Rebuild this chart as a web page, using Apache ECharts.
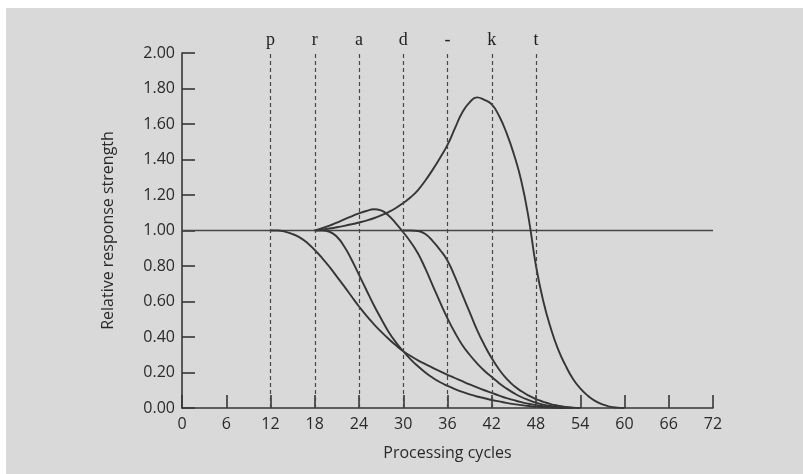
<!DOCTYPE html>
<html>
<head>
<meta charset="utf-8">
<script src="https://cdn.jsdelivr.net/npm/echarts@6/dist/echarts.min.js"></script>
<style>html,body{margin:0;padding:0;background:#fff}#c{width:803px;height:474px}</style>
</head>
<body>
<div id="c"></div>
<script>
// Phoneme markers (dashed lines) and their labels
const phonemeX = [12, 18, 24, 30, 36, 42, 48];
const phonemeLabels = ['p', 'r', 'a', 'd', '-', 'k', 't'];

// Baseline at relative strength 1.0
const baseline = [[0, 1], [72, 1]];

// Curves: [processing cycle, relative response strength]
const curve1 = [[12, 1], [13, 1], [14, 0.993], [15, 0.98], [16, 0.96], [17, 0.93], [18, 0.89], [19, 0.845], [20, 0.795], [21, 0.74], [22, 0.685], [23, 0.628], [24, 0.572], [25, 0.52], [26, 0.473], [27, 0.43], [28, 0.39], [29, 0.353], [30, 0.32], [31, 0.293], [32, 0.268], [33, 0.247], [34, 0.226], [35, 0.206], [36, 0.187], [37, 0.169], [38, 0.151], [39, 0.133], [40, 0.116], [41, 0.1], [42, 0.085], [43, 0.07], [44, 0.056], [45, 0.044], [46, 0.033], [47, 0.024], [48, 0.016], [49, 0.01], [50, 0.006], [51, 0.003], [52, 0.001], [53, 0]];
const curve2 = [[18, 1], [19, 1], [20, 0.993], [21, 0.965], [22, 0.91], [23, 0.835], [24, 0.75], [25, 0.665], [26, 0.58], [27, 0.503], [28, 0.43], [29, 0.37], [30, 0.32], [31, 0.274], [32, 0.235], [33, 0.2], [34, 0.17], [35, 0.145], [36, 0.125], [37, 0.107], [38, 0.091], [39, 0.077], [40, 0.065], [41, 0.055], [42, 0.045], [43, 0.037], [44, 0.029], [45, 0.022], [46, 0.016], [47, 0.011], [48, 0.007], [49, 0.004], [50, 0.002], [51, 0.001], [52, 0]];
const curve3 = [[18, 1], [19, 1.013], [20, 1.028], [21, 1.045], [22, 1.062], [23, 1.08], [24, 1.096], [25, 1.11], [26, 1.12], [27, 1.113], [28, 1.085], [29, 1.04], [30, 0.99], [31, 0.935], [32, 0.87], [33, 0.785], [34, 0.69], [35, 0.595], [36, 0.505], [37, 0.425], [38, 0.355], [39, 0.3], [40, 0.252], [41, 0.21], [42, 0.175], [43, 0.14], [44, 0.11], [45, 0.084], [46, 0.062], [47, 0.045], [48, 0.03], [49, 0.019], [50, 0.011], [51, 0.005], [52, 0]];
const curve4 = [[18, 1], [19, 1.005], [20, 1.011], [21, 1.018], [22, 1.026], [23, 1.035], [24, 1.045], [25, 1.056], [26, 1.069], [27, 1.085], [28, 1.104], [29, 1.127], [30, 1.155], [31, 1.187], [32, 1.228], [33, 1.282], [34, 1.343], [35, 1.41], [36, 1.482], [37, 1.575], [38, 1.665], [39, 1.722], [40, 1.75], [41, 1.736], [42, 1.71], [43, 1.645], [44, 1.55], [45, 1.43], [46, 1.28], [47, 1.07], [48, 0.8], [49, 0.6], [50, 0.45], [51, 0.33], [52, 0.24], [53, 0.165], [54, 0.11], [55, 0.07], [56, 0.04], [57, 0.02], [58, 0.008], [59, 0.002], [60, 0]];
const curve5 = [[30, 1], [31, 1], [32, 0.997], [33, 0.98], [34, 0.94], [35, 0.89], [36, 0.83], [37, 0.74], [38, 0.64], [39, 0.54], [40, 0.44], [41, 0.355], [42, 0.28], [43, 0.217], [44, 0.165], [45, 0.125], [46, 0.095], [47, 0.07], [48, 0.05], [49, 0.035], [50, 0.022], [51, 0.013], [52, 0.006], [53, 0.002], [54, 0]];

const lineColor = '#363636';
const textColor = '#2a2a2a';
const font = '"Open Sans", "Noto Sans", sans-serif';

function curveSeries(data) {
  return {
    type: 'line', data: data, smooth: 0.5,
    showSymbol: false, silent: true,
    lineStyle: { color: lineColor, width: 1.9 }, z: 3
  };
}

const chart = echarts.init(document.getElementById('c'), null, { renderer: 'canvas' });
chart.setOption({
  backgroundColor: '#ffffff',
  animation: false,
  graphic: [{
    type: 'rect', z: -100, silent: true,
    shape: { x: 6, y: 8, width: 803, height: 474 },
    style: { fill: '#d9d9d9' }
  }],
  grid: { left: 182, right: 90, top: 53, bottom: 66 },
  xAxis: {
    type: 'value', min: 0, max: 72, interval: 6,
    name: 'Processing cycles', nameLocation: 'middle', nameGap: 37,
    nameTextStyle: { color: textColor, fontSize: 16, fontFamily: font },
    axisLine: { lineStyle: { color: lineColor, width: 1.6 } },
    axisTick: { inside: true, length: 13, lineStyle: { color: lineColor, width: 1.6 } },
    axisLabel: { color: textColor, fontSize: 16, fontFamily: font, margin: 8 },
    splitLine: { show: false }
  },
  yAxis: {
    type: 'value', min: 0, max: 2, interval: 0.2,
    name: 'Relative response strength', nameLocation: 'middle', nameGap: 66,
    nameTextStyle: { color: textColor, fontSize: 16, fontFamily: font },
    axisLine: { show: true, lineStyle: { color: lineColor, width: 1.6 } },
    axisTick: { show: true, inside: true, length: 13, lineStyle: { color: lineColor, width: 1.6 } },
    axisLabel: { color: textColor, fontSize: 16, fontFamily: font, margin: 7,
      formatter: function (v) { return v.toFixed(2); } },
    splitLine: { show: false }
  },
  series: [
    {
      type: 'line', data: baseline, showSymbol: false, silent: true,
      lineStyle: { color: '#474747', width: 1.7 }, z: 2,
      markLine: {
        silent: true, symbol: ['none', 'none'],
        lineStyle: { type: [4, 3], color: '#474747', width: 1.2 },
        label: {
          show: true, position: 'end', distance: 4,
          formatter: '{b}', color: '#222', fontSize: 18,
          fontFamily: '"Liberation Serif", "DejaVu Serif", serif'
        },
        data: phonemeX.map(function (x, i) { return { xAxis: x, name: phonemeLabels[i] }; })
      }
    },
    curveSeries(curve1),
    curveSeries(curve2),
    curveSeries(curve3),
    curveSeries(curve4),
    curveSeries(curve5)
  ]
});
</script>
</body>
</html>
